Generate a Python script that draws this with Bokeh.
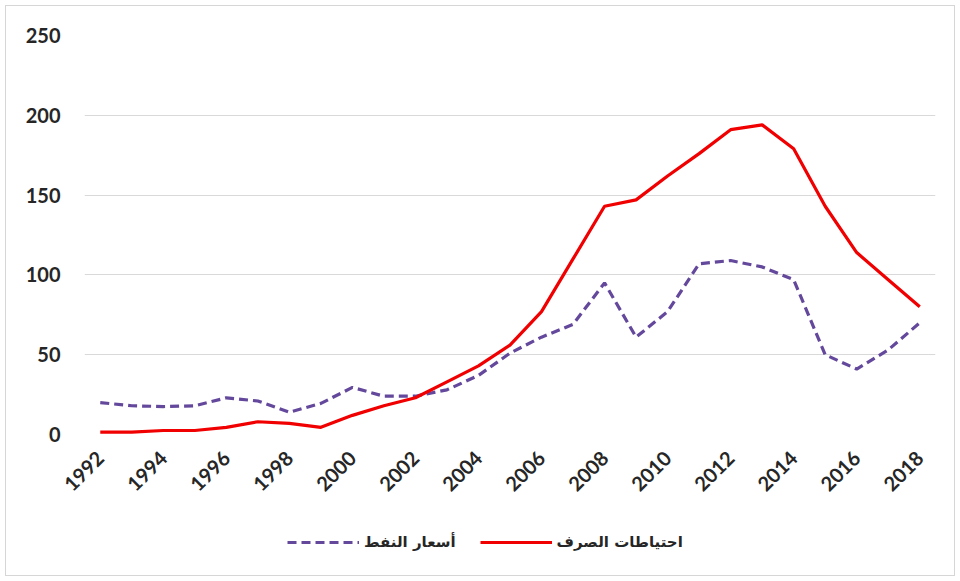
from bokeh.plotting import figure
from bokeh.layouts import column
from bokeh.models import Range1d, FixedTicker, Legend, LegendItem
from bokeh.embed import file_html
from bokeh.resources import INLINE
from math import pi

# Annual series, 1992-2018
years = list(range(1992, 2019))
reserves = [1.5, 1.5, 2.5, 2.5, 4.5, 8, 7, 4.5, 12, 18, 23, 33, 43, 56, 77, 110,
            143, 147, 162, 176, 191, 194, 179, 143, 114, 97, 80]
oil_prices = [20, 18, 17.5, 18, 23, 21, 14, 19.5, 29.5, 24, 24, 28, 37, 51, 61, 69,
              95, 61, 77, 107, 109, 105, 97, 50, 41, 53, 70]

reserves_label = "احتياطات الصرف"
oil_label = "أسعار النفط"
x_ticks = list(range(1992, 2019, 2))
y_ticks = [0, 50, 100, 150, 200, 250]

RESERVES_COLOR = "#F00000"
OIL_COLOR = "#64489C"
OIL_DASH = "9 5"

p = figure(frame_width=851, frame_height=399, output_backend="svg",
           toolbar_location=None,
           x_range=Range1d(1991.5, 2018.5), y_range=Range1d(0, 250),
           min_border_left=84, min_border_right=25, min_border_top=35,
           min_border_bottom=86, background_fill_color="white",
           border_fill_color=None)
p.outline_line_color = None

p.xgrid.grid_line_color = None
p.ygrid.grid_line_color = "#d9d9d9"
p.ygrid.grid_line_width = 1

for ax in (p.xaxis[0], p.yaxis[0]):
    ax.axis_line_color = None
    ax.major_tick_line_color = None
    ax.minor_tick_line_color = None
    ax.major_label_text_font = "Lato"
    ax.major_label_text_font_style = "bold"
    ax.major_label_text_font_size = "20px"
    ax.major_label_text_color = "#262626"

p.xaxis.ticker = FixedTicker(ticks=x_ticks)
p.xaxis.major_label_orientation = pi / 4
p.xaxis.major_label_standoff = 14
p.yaxis.ticker = FixedTicker(ticks=y_ticks)
p.yaxis.major_label_standoff = 18

p.line(years, oil_prices, line_color=OIL_COLOR, line_width=3.2, line_dash=OIL_DASH)
p.line(years, reserves, line_color=RESERVES_COLOR, line_width=3.2)

# legend strip under the chart; its key lines carry the same series but
# fall outside this strip's ranges, so only the legend swatches show
leg = figure(width=960, height=61, output_backend="svg", toolbar_location=None,
             x_range=Range1d(0, 1), y_range=Range1d(0, 1),
             x_axis_location=None, y_axis_location=None,
             min_border=0, border_fill_color=None, background_fill_color=None)
leg.outline_line_color = None
leg.grid.visible = False
oil_key = leg.line(years, oil_prices, line_color=OIL_COLOR, line_width=3.2,
                   line_dash=OIL_DASH)
res_key = leg.line(years, reserves, line_color=RESERVES_COLOR, line_width=3.2)

legend = Legend(items=[LegendItem(label=oil_label, renderers=[oil_key]),
                       LegendItem(label=reserves_label, renderers=[res_key])],
                orientation="horizontal", location=(203, 29),
                label_text_font="DejaVu Sans", label_text_font_style="bold",
                label_text_font_size="15px", label_text_color="#262626",
                glyph_width=72, label_standoff=5, spacing=24,
                border_line_color=None, background_fill_alpha=0,
                margin=0, padding=4)
leg.add_layout(legend, "center")

page = column(p, leg, spacing=0,
              styles={"outline": "1px solid #d6d6d6", "outline-offset": "-6px",
                      "background": "white"})

open("out.html", "w").write(file_html(page, INLINE))
